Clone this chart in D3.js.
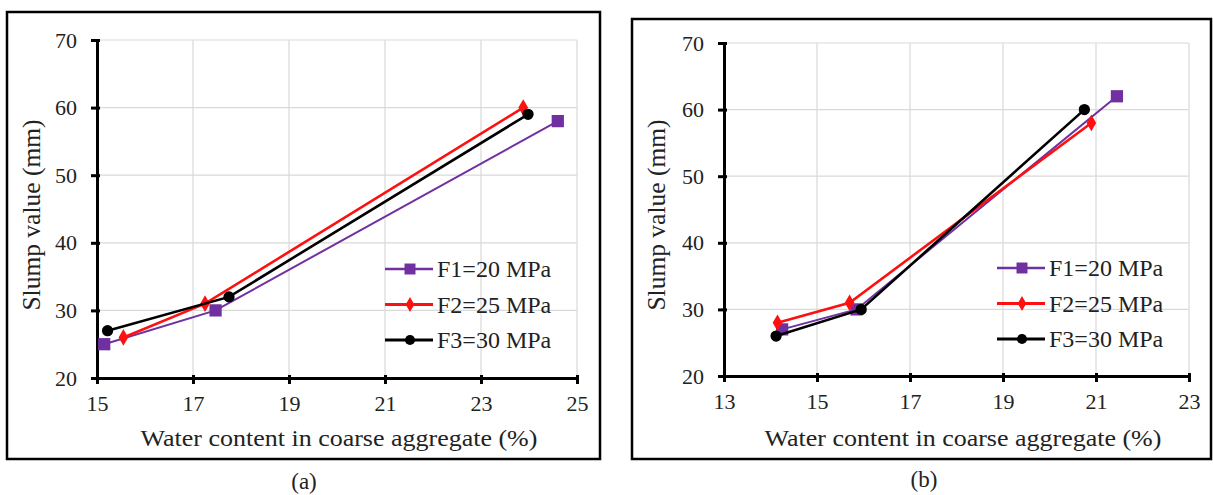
<!DOCTYPE html>
<html>
<head>
	<meta charset="utf-8">
	<script src="https://d3js.org/d3.v7.min.js"></script>
	<style>
		body { margin: 0; background: #fff; }
	</style>
</head>
<body>
<script>

	// series labels
	var seriesNames = ["F1=20 MPa", "F2=25 MPa", "F3=30 MPa"];

	// panel (a)
	var aTicksX = [15, 17, 19, 21, 23, 25];
	var aF1x = [15.15, 17.47, 24.6],  aF1y = [25, 30, 58];
	var aF2x = [15.55, 17.25, 23.88], aF2y = [26, 31, 60];
	var aF3x = [15.22, 17.75, 23.98], aF3y = [27, 32, 59];

	// panel (b)
	var bTicksX = [13, 15, 17, 19, 21, 23];
	var bF1x = [14.25, 15.85, 21.45], bF1y = [27, 30, 62];
	var bF2x = [14.15, 15.7, 20.9],   bF2y = [28, 31, 58];
	var bF3x = [14.12, 15.95, 20.75], bF3y = [26, 30, 60];

	// shared y ticks
	var ticksY = [20, 30, 40, 50, 60, 70];

	var width = 1213, height = 495;
	var FONT = "'Liberation Serif', 'Times New Roman', Tinos, serif";
	var colors = ["#7030a0", "#ff1010", "#000000"];
	var markers = [d3.symbolSquare, d3.symbolDiamond, d3.symbolCircle];
	var markerSize = [150, 80, 100];
	var lineW = [2, 2.6, 2.6];

	var svg = d3.select("body").append("svg")
		.attr("width", width)
		.attr("height", height)
		.attr("font-family", FONT);

	function zip(xs, ys) {
		return xs.map(function (x, i) { return [x, ys[i]]; });
	}

	// text that is a little wider than the font (the source picture is stretched sideways)
	function wideText(parent, cx, cy, size, sx, str) {
		return parent.append("text")
			.attr("transform", "translate(" + cx + "," + cy + ") scale(" + sx + ",1)")
			.attr("text-anchor", "middle").attr("font-size", size).attr("fill", "#222")
			.text(str);
	}

	function drawPanel(p) {
		svg.append("rect")
			.attr("x", p.box[0]).attr("y", p.box[1])
			.attr("width", p.box[2] - p.box[0]).attr("height", p.box[3] - p.box[1])
			.attr("fill", "none").attr("stroke", "#000").attr("stroke-width", 2.5);

		var x = d3.scaleLinear().domain(d3.extent(p.ticksX)).range([p.left, p.right]);
		var y = d3.scaleLinear().domain(d3.extent(ticksY)).range([p.bottom, p.top]);

		var g = svg.append("g");

		// gridlines
		g.selectAll(".vg").data(p.ticksX.slice(1)).enter().append("line")
			.attr("x1", x).attr("x2", x).attr("y1", p.top).attr("y2", p.bottom)
			.attr("stroke", "#d9d9d9").attr("stroke-width", 1.2);
		g.selectAll(".hg").data(ticksY.slice(1)).enter().append("line")
			.attr("x1", p.left).attr("x2", p.right).attr("y1", y).attr("y2", y)
			.attr("stroke", "#d9d9d9").attr("stroke-width", 1.2);

		// axes
		var xAxis = g.append("g").attr("transform", "translate(0," + p.bottom + ")")
			.call(d3.axisBottom(x).tickValues(p.ticksX).tickSizeInner(6).tickSizeOuter(0).tickPadding(11));
		var yAxis = g.append("g").attr("transform", "translate(" + p.left + ",0)")
			.call(d3.axisLeft(y).tickValues(ticksY).tickSizeInner(6).tickSizeOuter(0).tickPadding(14));
		[xAxis, yAxis].forEach(function (ax) {
			ax.attr("font-family", FONT).attr("font-size", 22);
			ax.select(".domain").attr("stroke", "#000").attr("stroke-width", 3);
			ax.selectAll(".tick line").attr("stroke", "#000").attr("stroke-width", 3);
			ax.selectAll(".tick text").attr("fill", "#222");
		});
		xAxis.selectAll(".tick line").attr("y1", -3);
		yAxis.selectAll(".tick line").attr("x1", 3);

		// series
		var line = d3.line().x(function (d) { return x(d[0]); }).y(function (d) { return y(d[1]); });
		p.series.forEach(function (s, i) {
			g.append("path").datum(s)
				.attr("d", line).attr("fill", "none")
				.attr("stroke", colors[i]).attr("stroke-width", lineW[i]);
			g.selectAll(".m" + i).data(s).enter().append("path")
				.attr("d", d3.symbol().type(markers[i]).size(markerSize[i]))
				.attr("transform", function (d) { return "translate(" + x(d[0]) + "," + y(d[1]) + ")"; })
				.attr("fill", colors[i]);
		});

		// legend
		seriesNames.forEach(function (name, i) {
			var ly = p.legend[1] + i * 35.5;
			g.append("line")
				.attr("x1", p.legend[0]).attr("x2", p.legend[0] + 48)
				.attr("y1", ly).attr("y2", ly)
				.attr("stroke", colors[i]).attr("stroke-width", lineW[i] + 0.4);
			g.append("path")
				.attr("d", d3.symbol().type(markers[i]).size(markerSize[i] * 0.8))
				.attr("transform", "translate(" + (p.legend[0] + 25) + "," + ly + ")")
				.attr("fill", colors[i]);
			g.append("text")
				.attr("x", p.legend[0] + 52).attr("y", ly)
				.attr("dy", "0.35em")
				.attr("font-size", 24).attr("fill", "#222")
				.text(name);
		});

		// axis titles
		wideText(g, p.xTitle[0], p.xTitle[1], 23, 1.13, "Water content in coarse aggregate (%)");
		g.append("text")
			.attr("transform", "translate(" + p.yTitle[0] + "," + p.yTitle[1] + ") rotate(-90)")
			.attr("text-anchor", "middle").attr("font-size", 25.5).attr("fill", "#222")
			.text("Slump value (mm)");

		// caption
		svg.append("text")
			.attr("x", p.caption[0]).attr("y", p.caption[1])
			.attr("text-anchor", "middle").attr("font-size", 23).attr("fill", "#222")
			.text(p.label);
	}

	drawPanel({
		box: [7, 12, 600, 459],
		left: 97, right: 577, top: 40, bottom: 378,
		ticksX: aTicksX,
		series: [zip(aF1x, aF1y), zip(aF2x, aF2y), zip(aF3x, aF3y)],
		legend: [385, 269],
		xTitle: [339, 446], yTitle: [40, 215],
		caption: [304, 489], label: "(a)"
	});

	drawPanel({
		box: [632, 19, 1211, 459],
		left: 724, right: 1189, top: 43, bottom: 376,
		ticksX: bTicksX,
		series: [zip(bF1x, bF1y), zip(bF2x, bF2y), zip(bF3x, bF3y)],
		legend: [997, 268],
		xTitle: [963, 446], yTitle: [665, 215],
		caption: [924, 487], label: "(b)"
	});

</script>
</body>
</html>
